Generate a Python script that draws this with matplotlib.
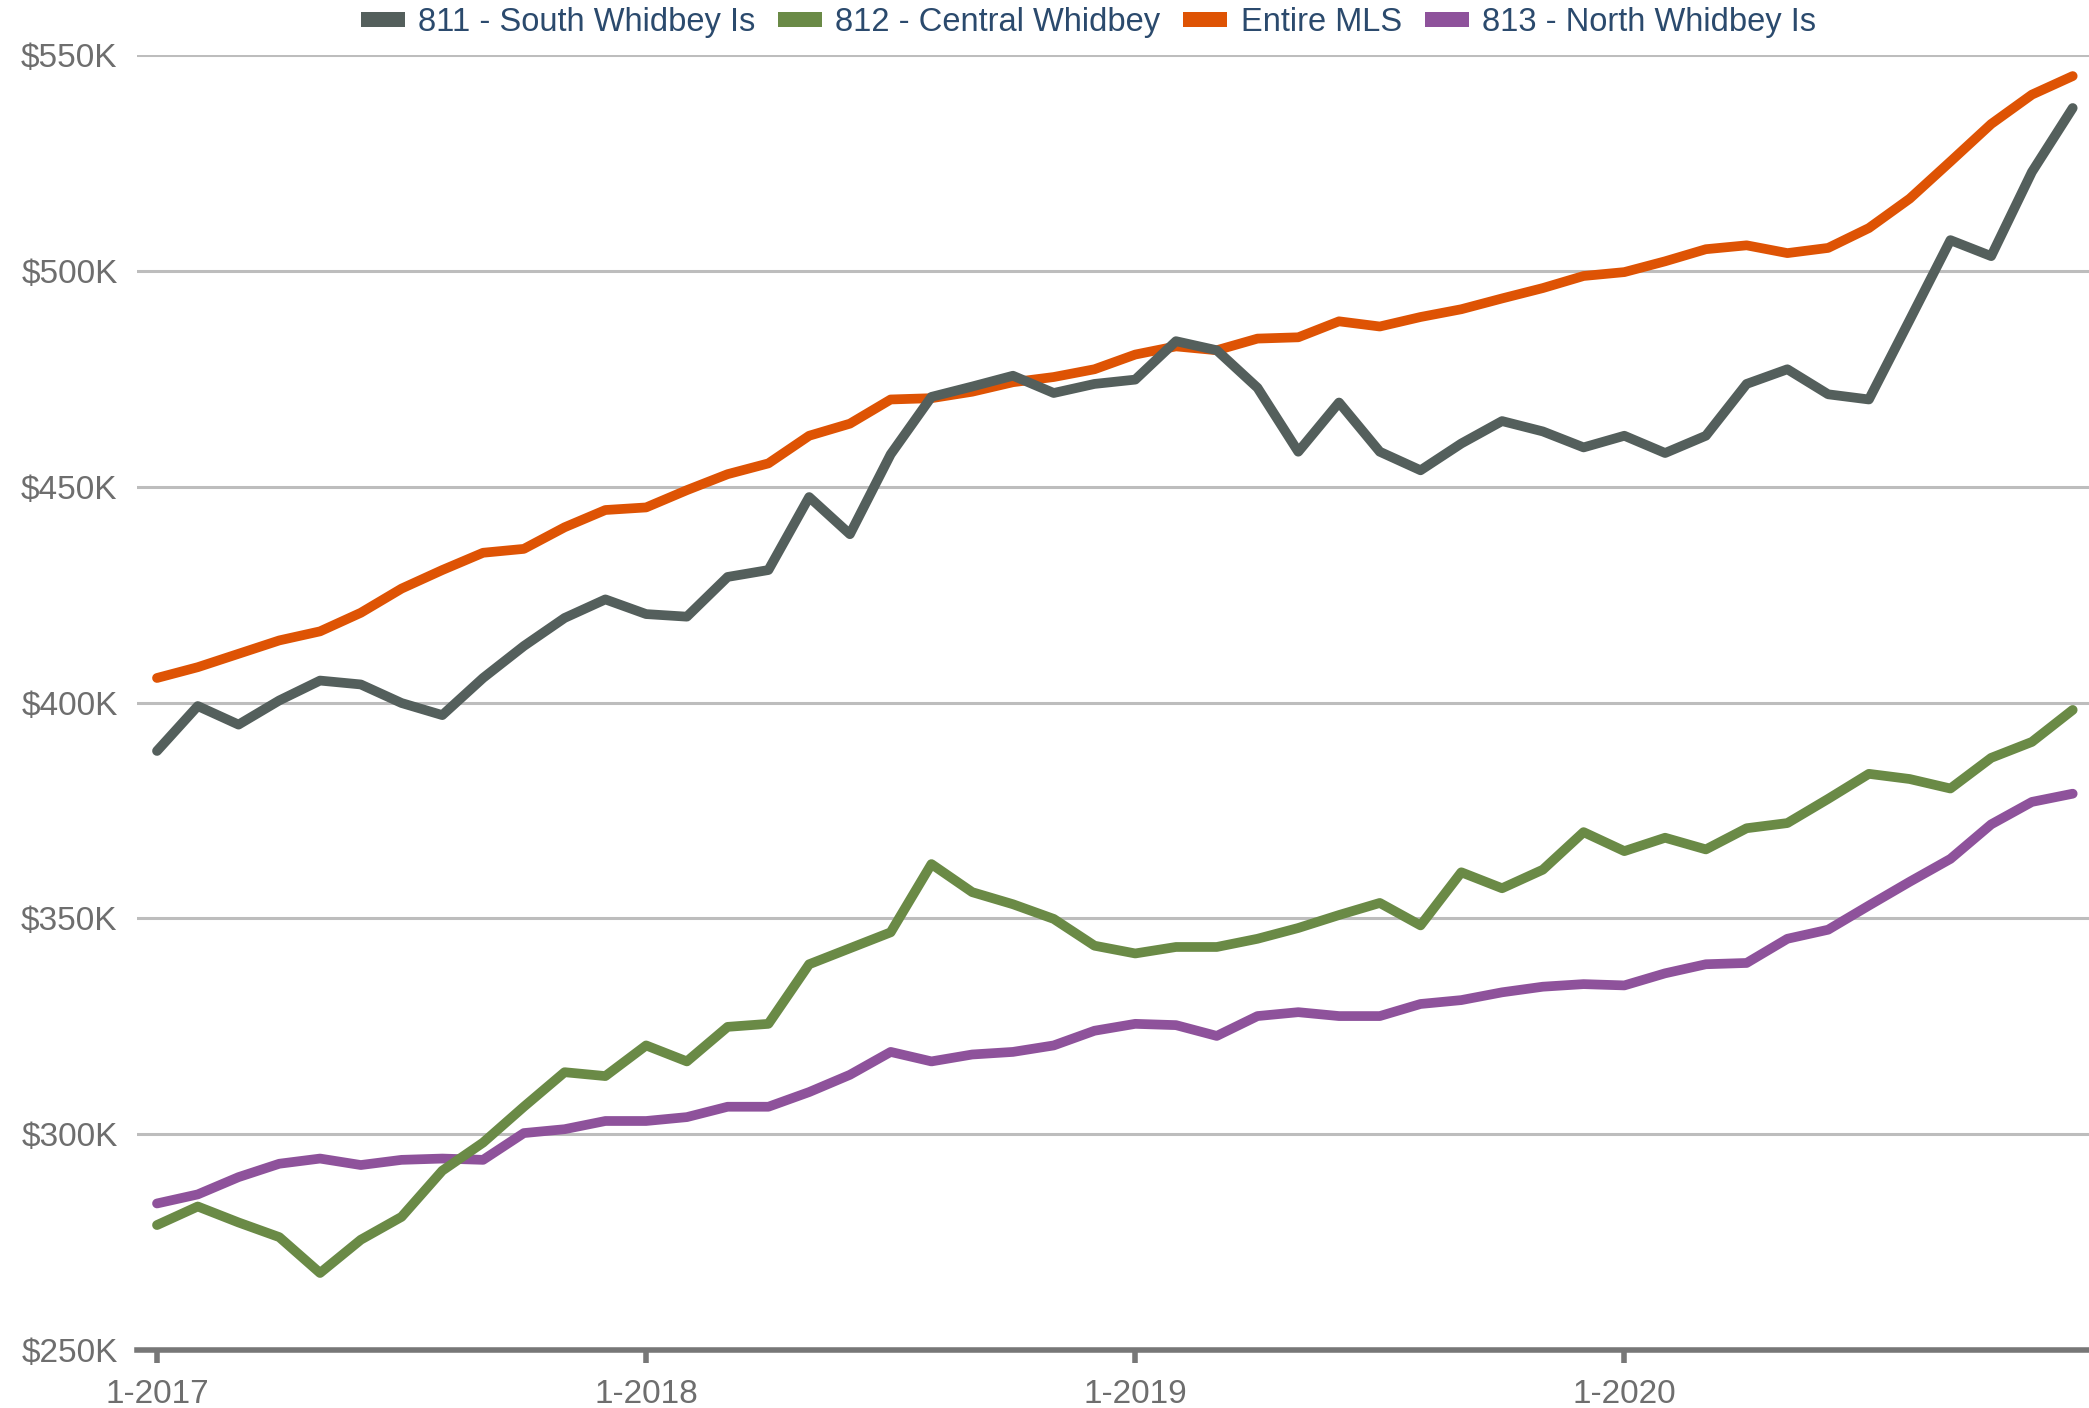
import numpy as np
import matplotlib
matplotlib.use("Agg")
from matplotlib import pyplot as plt
from matplotlib.patches import Patch

# median price, monthly 1-2017 .. 12-2020, in $K
months = list(range(48))
tick_pos = [0, 12, 24, 36]
tick_labels = ['1-2017', '1-2018', '1-2019', '1-2020']

south_whidbey = [388.8, 399.2, 394.9, 400.5, 405.1, 404.2, 399.9, 397.1, 405.7, 413.1,
                 419.6, 423.9, 420.5, 419.9, 429.1, 430.7, 447.6, 439.0, 457.5, 470.8,
                 473.2, 475.7, 471.7, 473.8, 474.8, 483.7, 481.6, 472.9, 458.1, 469.5,
                 458.1, 453.8, 460.0, 465.2, 462.8, 459.1, 461.8, 457.8, 461.8, 473.8,
                 477.2, 471.4, 470.2, 488.6, 507.1, 503.4, 522.9, 537.7]
central_whidbey = [279.0, 283.3, 279.6, 276.2, 267.9, 275.6, 280.9, 291.6, 298.1, 306.4,
                   314.4, 313.5, 320.6, 316.9, 324.9, 325.6, 339.4, 343.1, 346.8, 362.6,
                   356.1, 353.3, 349.9, 343.7, 341.9, 343.4, 343.4, 345.3, 347.8, 350.8,
                   353.6, 348.4, 360.7, 357.0, 361.3, 370.0, 365.6, 368.7, 366.0, 370.9,
                   372.1, 377.7, 383.5, 382.3, 380.1, 387.2, 390.9, 398.3]
entire_mls = [405.7, 408.2, 411.3, 414.4, 416.5, 420.8, 426.4, 430.7, 434.7, 435.6,
              440.6, 444.6, 445.2, 449.2, 452.9, 455.4, 461.8, 464.6, 470.2, 470.5,
              472.0, 474.2, 475.4, 477.2, 480.6, 482.5, 481.6, 484.3, 484.6, 488.3,
              487.1, 489.3, 491.1, 493.6, 496.0, 498.8, 499.7, 502.2, 505.0, 505.9,
              504.1, 505.3, 509.9, 516.7, 525.3, 534.0, 540.8, 545.1]
north_whidbey = [284.0, 286.1, 290.1, 293.2, 294.4, 292.9, 294.1, 294.4, 294.1, 300.3,
                 301.2, 303.1, 303.1, 304.0, 306.4, 306.4, 309.8, 313.8, 319.1, 316.9,
                 318.5, 319.1, 320.6, 324.0, 325.6, 325.3, 322.8, 327.4, 328.3, 327.4,
                 327.4, 330.2, 331.1, 332.9, 334.2, 334.8, 334.5, 337.3, 339.4, 339.7,
                 345.3, 347.4, 353.0, 358.5, 363.8, 371.8, 377.0, 378.9]

series_names = ['811 - South Whidbey Is', '812 - Central Whidbey', 'Entire MLS', '813 - North Whidbey Is']
series_colors = ['#545f5c', '#6a8a46', '#de5304', '#8e529b']
yticks = [250, 300, 350, 400, 450, 500, 550]

plt.rcParams['font.family'] = ['Liberation Sans', 'DejaVu Sans']

fig = plt.figure(figsize=(20.89, 14.08), dpi=100)
ax = fig.add_axes([0.0656, 0.041, 0.9344, 0.92])

all_series = [south_whidbey, central_whidbey, entire_mls, north_whidbey]
# purple and green first, orange/gray drawn on top
for idx in [3, 1, 2, 0]:
    ax.plot(months, all_series[idx], color=series_colors[idx], lw=7,
            solid_capstyle='round', solid_joinstyle='round', zorder=3)

ax.set_xlim(-0.49, 47.4)
ax.set_ylim(250, 550)
ax.set_yticks(yticks)
ax.set_yticklabels(['$%dK' % v for v in yticks])
ax.set_xticks(tick_pos)
ax.set_xticklabels(tick_labels)

ax.grid(axis='y', color='#bdbdbd', lw=2.2, zorder=0)
for s in ['top', 'right', 'left']:
    ax.spines[s].set_visible(False)
ax.spines['bottom'].set_color('#777777')
ax.spines['bottom'].set_linewidth(4)
ax.spines['bottom'].set_zorder(4)

ax.tick_params(axis='y', length=0, pad=14, labelsize=24, labelcolor='#6e6e6e')
ax.tick_params(axis='x', length=9, width=4, color='#777777', pad=12,
               labelsize=24, labelcolor='#6e6e6e')

leg_handles = [Patch(facecolor=c, edgecolor='none') for c in series_colors]
leg = fig.legend(leg_handles, series_names, loc='center', ncol=4,
                 bbox_to_anchor=(0.521, 0.984), frameon=False, fontsize=23.5,
                 handlelength=1.35, handleheight=0.35, handletextpad=0.4, columnspacing=0.7)
for t in leg.get_texts():
    t.set_color('#2b4a6d')

fig.savefig('out.png', dpi=100)
